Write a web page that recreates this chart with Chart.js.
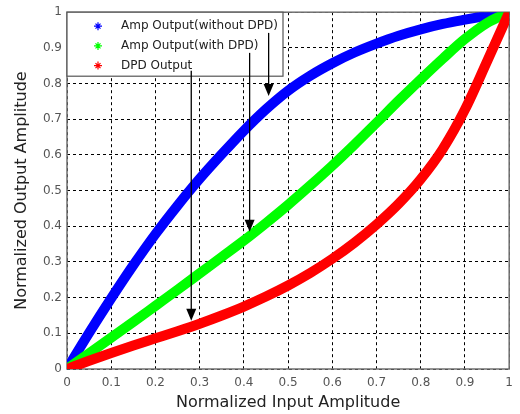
<!DOCTYPE html>
<html><head><meta charset="utf-8">
<script src="https://cdn.jsdelivr.net/npm/chart.js@4.4.0/dist/chart.umd.min.js"></script>
<style>html,body{margin:0;padding:0;background:#fff;}#wrap{width:520px;height:414px;}</style>
</head><body><div id="wrap"><canvas id="c" width="520" height="414"></canvas></div>
<script>
// ---- data ----
const inputAmp      = [0,0.05,0.1,0.15,0.2,0.25,0.3,0.35,0.4,0.45,0.5,0.55,0.6,0.65,0.7,0.75,0.8,0.85,0.9,0.95,1];
const ampWithoutDPD = [0,0.101,0.198,0.291,0.378,0.458,0.533,0.602,0.668,0.728,0.78,0.822,0.857,0.887,0.912,0.934,0.952,0.967,0.979,0.99,1];
const ampWithDPD    = [0,0.044,0.088,0.132,0.177,0.222,0.268,0.314,0.36,0.409,0.46,0.514,0.57,0.629,0.69,0.752,0.812,0.87,0.925,0.97,1];
const dpdOutput     = [0,0.023,0.045,0.066,0.086,0.106,0.127,0.15,0.175,0.203,0.234,0.269,0.309,0.354,0.405,0.463,0.532,0.617,0.727,0.862,1];
const seriesNames   = ['Amp Output(without DPD)','Amp Output(with DPD)','DPD Output'];
const seriesColors  = ['#0000ff','#00ff00','#ff0000'];
const xTicks = [0,0.1,0.2,0.3,0.4,0.5,0.6,0.7,0.8,0.9,1];
const yTicks = [0,0.1,0.2,0.3,0.4,0.5,0.6,0.7,0.8,0.9,1];
// annotation arrows in data coordinates: [x, yStart, yTip]
const arrowX     = [0.456, 0.413, 0.281];
const arrowStart = [0.942, 0.886, 0.836];
const arrowTip   = [0.765, 0.385, 0.135];

const toPts = ys => inputAmp.map((x,i)=>({x:x,y:ys[i]}));
const fmt = v => String(+Number(v).toFixed(1));

const FONT = "'DejaVu Sans', sans-serif";

const decor = {
  id:'decor',
  beforeDatasetsDraw(chart){
    const {ctx, chartArea:a} = chart;
    ctx.save();
    ctx.strokeStyle = '#707070';
    ctx.lineWidth = 1.5;
    ctx.strokeRect(a.left, a.top, a.right-a.left, a.bottom-a.top);
    ctx.restore();
  },
  afterDatasetsDraw(chart){
    const {ctx, chartArea:a} = chart;
    ctx.save();
    const bx = a.left, by = a.top, bw = 216, bh = 64;
    ctx.fillStyle = '#fff';
    ctx.fillRect(bx, by, bw, bh);
    ctx.strokeStyle = '#555';
    ctx.lineWidth = 1.2;
    ctx.strokeRect(bx, by, bw, bh);
    ctx.font = '12px ' + FONT;
    ctx.textBaseline = 'middle';
    ctx.textAlign = 'left';
    seriesNames.forEach((n,i)=>{
      const cy = by + 14 + i*19.7;
      const mx = bx + 31;
      ctx.strokeStyle = seriesColors[i];
      ctx.lineWidth = 1.2;
      ctx.beginPath();
      ctx.moveTo(mx-4, cy); ctx.lineTo(mx+4, cy);
      ctx.moveTo(mx, cy-4); ctx.lineTo(mx, cy+4);
      ctx.moveTo(mx-2.5, cy-2.5); ctx.lineTo(mx+2.5, cy+2.5);
      ctx.moveTo(mx-2.5, cy+2.5); ctx.lineTo(mx+2.5, cy-2.5);
      ctx.stroke();
      ctx.fillStyle = '#222';
      ctx.fillText(n, bx + 54, cy);
    });
    ctx.restore();
  },
  afterDraw(chart){
    const {ctx, scales} = chart;
    const xs = scales.x, ys = scales.y;
    ctx.save();
    ctx.strokeStyle = '#000';
    ctx.fillStyle = '#000';
    ctx.lineWidth = 1.3;
    arrowX.forEach((xv,i)=>{
      const px = xs.getPixelForValue(xv);
      const p0 = ys.getPixelForValue(arrowStart[i]);
      const p1 = ys.getPixelForValue(arrowTip[i]);
      ctx.beginPath();
      ctx.moveTo(px, p0); ctx.lineTo(px, p1-10);
      ctx.stroke();
      ctx.beginPath();
      ctx.moveTo(px, p1);
      ctx.lineTo(px-5, p1-12);
      ctx.lineTo(px+5, p1-12);
      ctx.closePath();
      ctx.fill();
    });
    ctx.restore();
  }
};

const mkSet = (i, ys, order) => ({
  label: seriesNames[i], data: toPts(ys),
  borderColor: seriesColors[i], backgroundColor: seriesColors[i],
  borderWidth: 10, pointRadius: 0, fill: false,
  cubicInterpolationMode: 'monotone', borderCapStyle: 'round', borderJoinStyle: 'round',
  order: order
});

new Chart(document.getElementById('c'), {
  type: 'line',
  data: { datasets: [ mkSet(0, ampWithoutDPD, 3), mkSet(1, ampWithDPD, 2), mkSet(2, dpdOutput, 1) ] },
  options: {
    responsive: false, animation: false, devicePixelRatio: 1,
    layout: { padding: { left: 0, right: 4, top: 12, bottom: 0 } },
    plugins: { legend: { display: false }, tooltip: { enabled: false } },
    scales: {
      x: {
        type: 'linear', min: 0, max: 1,
        afterBuildTicks: s => { s.ticks = xTicks.map(v=>({value:v})); },
        afterFit: s => { s.height = 45; },
        grid: { color: '#000', lineWidth: 1, drawTicks: false },
        border: { display: false, dash: [3,3] },
        ticks: { padding: 7, color: '#555', font: { family: FONT, size: 12 }, callback: v => fmt(v), maxRotation: 0 },
        title: { display: true, text: 'Normalized Input Amplitude', color: '#222', font: { family: FONT, size: 16 }, padding: { top: 0, bottom: 2 } }
      },
      y: {
        type: 'linear', min: 0, max: 1,
        afterBuildTicks: s => { s.ticks = yTicks.map(v=>({value:v})); },
        afterFit: s => { s.width = 67; },
        grid: { color: '#000', lineWidth: 1, drawTicks: false },
        border: { display: false, dash: [3,3] },
        ticks: { padding: 5, color: '#555', font: { family: FONT, size: 12 }, callback: v => fmt(v) },
        title: { display: true, text: 'Normalized Output Amplitude', color: '#222', font: { family: FONT, size: 16 }, padding: { top: 12, bottom: 0 } }
      }
    }
  },
  plugins: [decor]
});
</script>
</body></html>
